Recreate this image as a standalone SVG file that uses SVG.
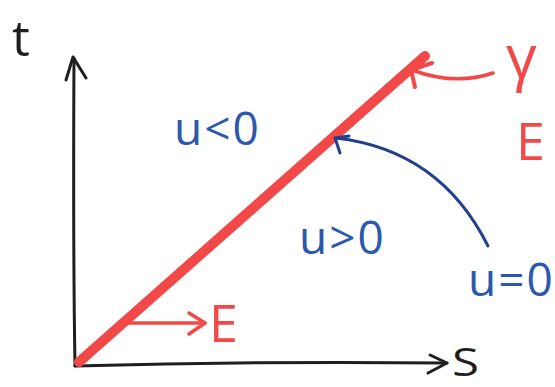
<svg xmlns="http://www.w3.org/2000/svg" width="555" height="387" viewBox="0 0 555 387">
<style>
.ax{fill:none;stroke:#1e1e1e;stroke-width:3;stroke-linecap:round;stroke-linejoin:round}
.red{fill:none;stroke:#f24848;stroke-linecap:round;stroke-linejoin:round}
.blue{fill:none;stroke:#22408c;stroke-width:3;stroke-linecap:round;stroke-linejoin:round}
.tk{font-family:"Open Sans","Liberation Sans",sans-serif;fill:#1e1e1e}
.tr{font-family:"Open Sans","Liberation Sans",sans-serif;fill:#f24848}
.tb{font-family:"Open Sans","Liberation Sans",sans-serif;fill:#2c58ad;font-size:46px;letter-spacing:2px}
</style>
<rect width="555" height="387" fill="#fff"/>
<g id="connectors">
  <path class="ax" d="M75,366 Q73,250 74,58"/>
  <path class="ax" d="M66,80 L73,57 L86,78"/>
  <path class="ax" d="M75,366 Q260,361 447,363"/>
  <path class="ax" d="M430,355 L447,363 L428,373"/>
  <path class="red" stroke-width="10" d="M79,362 L425,56"/>
  <path class="red" stroke-width="3.5" d="M122,323 L205,323"/>
  <path class="red" stroke-width="3.5" d="M189,313 L205,323 L189,334"/>
  <path class="red" stroke-width="3.5" d="M493,73 Q455,86 412,70"/>
  <path class="red" stroke-width="4" d="M422,55 L411,70 L415,87 M411,70 L432,63"/>
  <path class="blue" d="M488,246 Q440,150 336,138"/>
  <path class="blue" d="M340,153 L335,138 L349,136"/>
</g>
<g id="label-t"><text class="tk" x="12" y="56" font-size="50">t</text></g>
<g id="label-S"><text class="tk" x="452" y="376" font-size="38" textLength="27" lengthAdjust="spacingAndGlyphs">S</text></g>
<g id="label-gamma"><text class="tr" x="506" y="78" font-size="60">γ</text></g>
<g id="label-E-top"><text class="tr" x="516" y="160" font-size="52">E</text></g>
<g id="label-E-bottom"><text class="tr" x="209" y="342" font-size="52">E</text></g>
<g id="region-neg"><text class="tb" x="174" y="145">u&lt;0</text></g>
<g id="region-pos"><text class="tb" x="299" y="254">u&gt;0</text></g>
<g id="curve-zero"><text class="tb" x="468" y="296">u=0</text></g>
</svg>
